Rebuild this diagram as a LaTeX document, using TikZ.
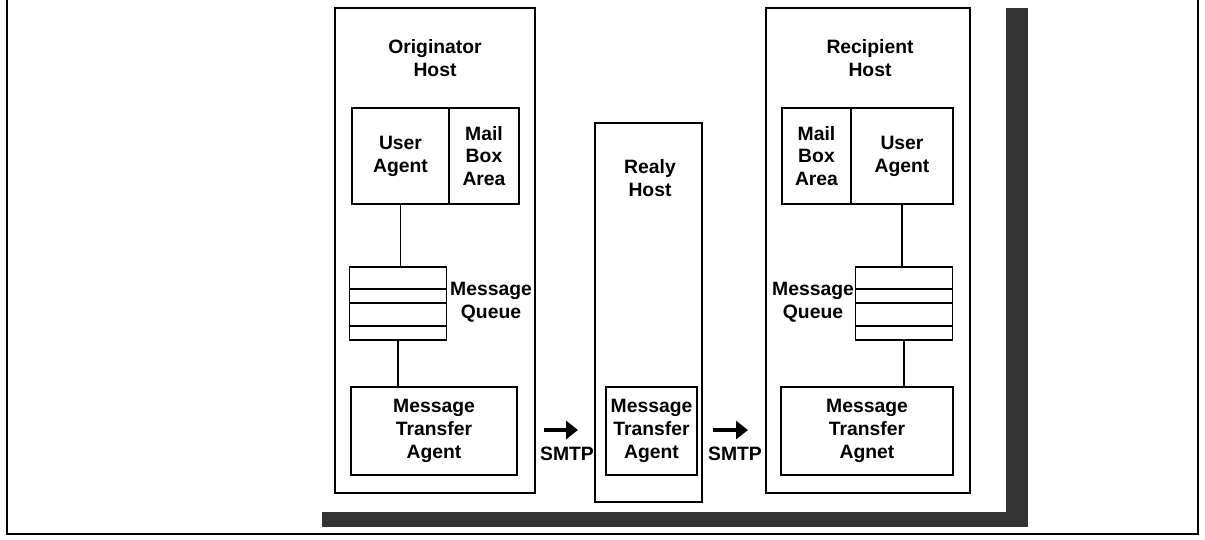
\documentclass[tikz,border=0pt]{standalone}
\usepackage{fontspec}
\setmainfont{Liberation Sans}
\usetikzlibrary{arrows.meta,positioning}

\begin{document}
\begin{tikzpicture}[x=0.02cm, y=-0.02cm,
  font=\fontsize{11}{13}\selectfont\bfseries,
  host/.style={draw, line width=1.1pt, inner sep=0pt},
  box/.style={draw, line width=1.1pt, inner sep=0pt, align=center, minimum height=1.92cm},
  mta/.style={draw, line width=1.1pt, inner sep=0pt, align=center, minimum height=1.76cm},
  slot/.style={draw, line width=1pt, inner sep=0pt, outer sep=0pt, minimum width=1.94cm},
  lbl/.style={align=center, inner sep=0pt},
  link/.style={line width=0.8pt},
  smtparr/.style={-{Triangle[length=2.4mm, width=3.6mm]}, line width=2.2pt}
]
\useasboundingbox (0,0) rectangle (1205,539);

% frame and shadow
\draw[line width=1.2pt] (7,0) -- (7,534) -- (1198,534) -- (1198,0);
\fill[black!80] (1006,8) rectangle (1028,527);
\fill[black!80] (322,512) rectangle (1028,527);

% originator host
\node[host, minimum width=4cm, minimum height=9.7cm] (orig) at (435,250.5) {};
\node[lbl] (origT) at (435,58) {Originator\\Host};
\node[box, minimum width=1.94cm] (ua1) at (400.5,156) {User\\Agent};
\node[box, minimum width=1.4cm] (mb1) at (484,156) {Mail\\Box\\Area};
\node[slot, minimum height=0.44cm] (q11) at (398,278) {};
\node[slot, minimum height=0.28cm, below=0pt of q11] (q12) {};
\node[slot, minimum height=0.46cm, below=0pt of q12] (q13) {};
\node[slot, minimum height=0.28cm, below=0pt of q13] (q14) {};
\node[lbl] (ql1) at (491,302) {Message\\Queue};
\node[mta, minimum width=3.32cm] (mta1) at (434,431) {Message\\Transfer\\Agent};
\draw[link] (ua1.south) -- (ua1.south |- q11.north);
\draw[link] (q14.south) -- (q14.south |- mta1.north);

% relay host
\node[host, minimum width=2.14cm, minimum height=7.58cm] (relay) at (648.5,312.5) {};
\node[lbl] (relayT) at (650,178) {Realy\\Host};
\node[mta, minimum width=1.82cm] (mta2) at (651.5,431) {Message\\Transfer\\Agent};

% recipient host
\node[host, minimum width=4.08cm, minimum height=9.7cm] (recip) at (868,250.5) {};
\node[lbl] (recipT) at (870,58) {Recipient\\Host};
\node[box, minimum width=1.38cm] (mb3) at (816.5,156) {Mail\\Box\\Area};
\node[box, minimum width=2.04cm] (ua3) at (902,156) {User\\Agent};
\node[slot, minimum height=0.44cm] (q31) at (904,278) {};
\node[slot, minimum height=0.28cm, below=0pt of q31] (q32) {};
\node[slot, minimum height=0.46cm, below=0pt of q32] (q33) {};
\node[slot, minimum height=0.28cm, below=0pt of q33] (q34) {};
\node[lbl] (ql3) at (813,302) {Message\\Queue};
\node[mta, minimum width=3.44cm] (mta3) at (867,431) {Message\\Transfer\\Agnet};
\draw[link] (ua3.south) -- (ua3.south |- q31.north);
\draw[link] (q34.south) -- (q34.south |- mta3.north);

% SMTP hops
\coordinate (a1s) at (544,430);
\coordinate (a1e) at (578,430);
\coordinate (a2s) at (713,430);
\coordinate (a2e) at (748,430);
\draw[smtparr] (a1s) -- (a1e);
\draw[smtparr] (a2s) -- (a2e);
\node[lbl] (smtp1) at (567,454) {SMTP};
\node[lbl] (smtp2) at (735,454) {SMTP};
\end{tikzpicture}
\end{document}
